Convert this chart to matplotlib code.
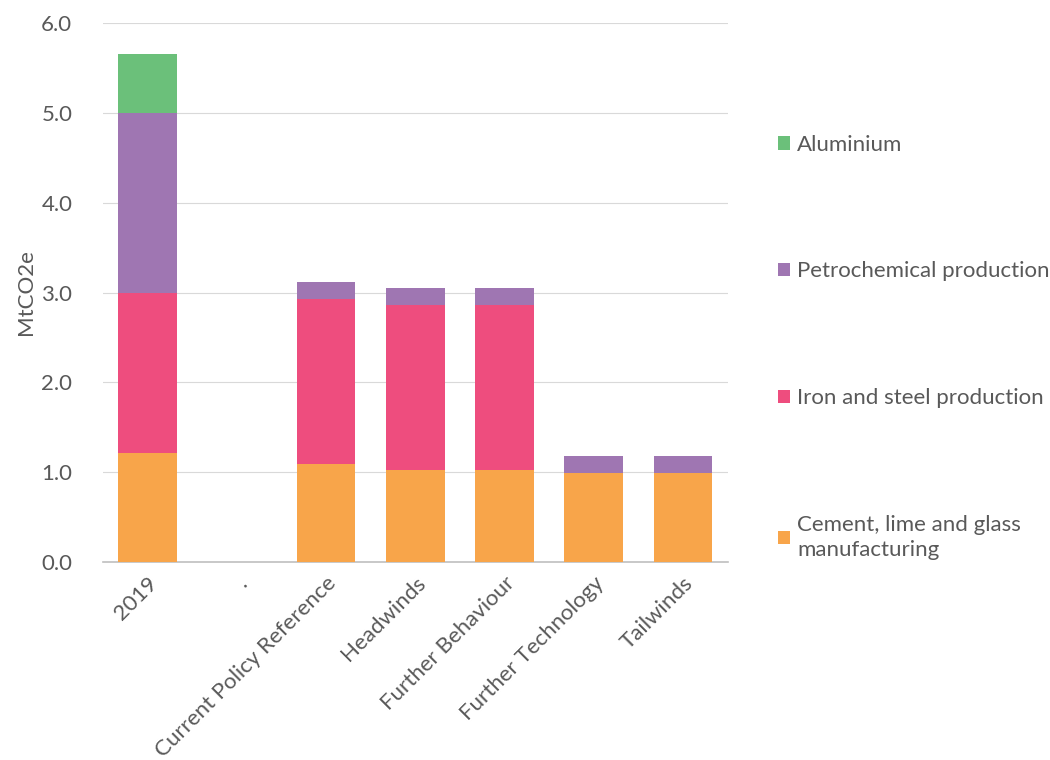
import numpy as np
import matplotlib
matplotlib.use('Agg')
from matplotlib import pyplot as plt

plt.rcParams['font.family'] = ['Lato', 'DejaVu Sans']

# data (MtCO2e)
scenarios = ['2019', '.', 'Current Policy Reference', 'Headwinds',
             'Further Behaviour', 'Further Technology', 'Tailwinds']
cement = [1.21, 0.0, 1.09, 1.02, 1.02, 0.99, 0.99]
iron_steel = [1.79, 0.0, 1.84, 1.84, 1.84, 0.0, 0.0]
petrochem = [2.00, 0.0, 0.19, 0.19, 0.19, 0.19, 0.19]
aluminium = [0.66, 0.0, 0.0, 0.0, 0.0, 0.0, 0.0]

series = [('Cement, lime and glass\nmanufacturing', cement, '#F8A54A'),
          ('Iron and steel production', iron_steel, '#EE4D7E'),
          ('Petrochemical production', petrochem, '#9F76B2'),
          ('Aluminium', aluminium, '#6BC07A')]

grey = '#595959'
fs = 16

fig = plt.figure(figsize=(10.5, 7.6), dpi=100)
ax = fig.add_axes([0.098, 0.2605, 0.595, 0.7092])

x = np.arange(len(scenarios))
bottom = np.zeros(len(scenarios))
handles = []
for name, vals, col in series:
    vals = np.array(vals)
    b = ax.bar(x, vals, 0.66, bottom=bottom, color=col, label=name, zorder=3)
    handles.append(b)
    bottom = bottom + vals

ax.set_xlim(-0.5, len(scenarios) - 0.5)
ax.set_ylim(0, 6)
ax.set_yticks(np.arange(0, 7, 1))
ax.set_yticklabels(['%.1f' % v for v in np.arange(0, 7, 1)], fontsize=fs, color=grey)
ax.yaxis.grid(True, color='#D9D9D9', linewidth=0.8, zorder=0)
ax.set_xticks(x)
ax.set_xticklabels(scenarios, rotation=45, ha='right', rotation_mode='anchor',
                   fontsize=fs, color=grey)
ax.tick_params(axis='both', length=0)
ax.tick_params(axis='x', pad=8)
ax.tick_params(axis='y', pad=22)
for s in ['top', 'right', 'left']:
    ax.spines[s].set_visible(False)
ax.spines['bottom'].set_color('#BFBFBF')
ax.spines['bottom'].set_linewidth(1.2)
ax.set_ylabel('MtCO2e', fontsize=fs, color=grey, labelpad=4)

leg = fig.legend(handles[::-1], [h.get_label() for h in handles[::-1]],
                 loc='upper left', bbox_to_anchor=(0.722, 0.849),
                 frameon=False, fontsize=fs, labelcolor=grey,
                 handlelength=0.55, handleheight=0.55, handletextpad=0.3,
                 labelspacing=4.8)
for t in leg.get_texts():
    t.set_linespacing(1.35)

fig.savefig('out.png', dpi=100)
